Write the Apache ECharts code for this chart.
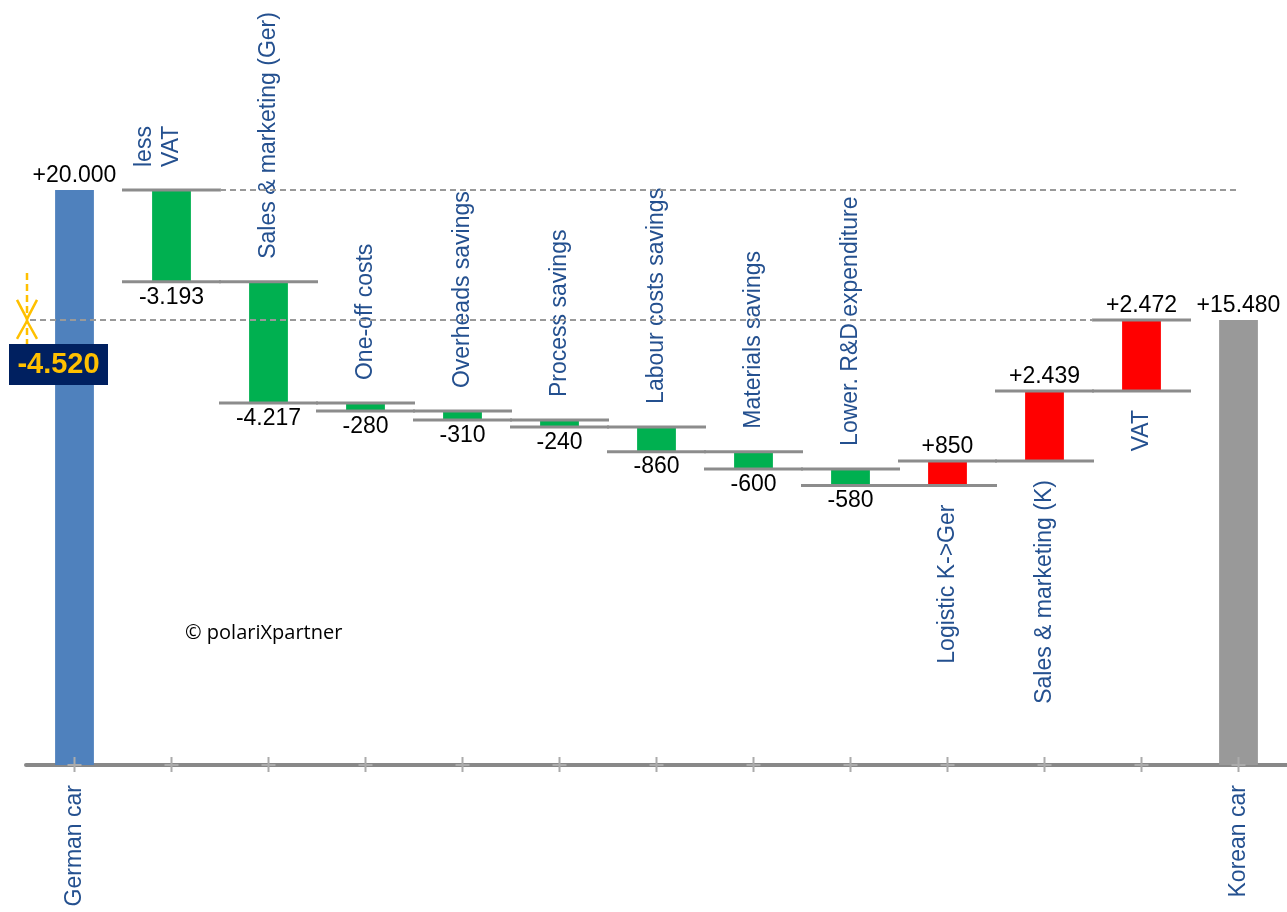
<!DOCTYPE html>
<html>
<head>
<meta charset="utf-8">
<script src="https://cdn.jsdelivr.net/npm/echarts@6/dist/echarts.min.js"></script>
<style>
html,body{margin:0;padding:0;background:#fff;}
#chart{width:1287px;height:912px;}
</style>
</head>
<body>
<div id="chart"></div>
<script>
// ---- data ----
const categories = ['German car','less\nVAT','Sales & marketing (Ger)','One-off costs','Overheads savings','Process savings','Labour costs savings','Materials savings','Lower. R&D expenditure','Logistic K->Ger','Sales & marketing (K)','VAT','Korean car'];
const deltas = [20000,-3193,-4217,-280,-310,-240,-860,-600,-580,850,2439,2472,15480];
const isTotal = [1,0,0,0,0,0,0,0,0,0,0,0,1];
const copyrightText = '\u00a9 polariXpartner';

// ---- styles ----
const C_GREEN = '#00B050', C_RED = '#FF0000', C_START = '#4F81BD', C_END = '#999999';
const C_CONN = '#8C8C8C', C_CAT = '#24508F', C_MARK = '#FFC000', C_BOX = '#002060';
const FONT = '"Liberation Sans", Arial, sans-serif';
const FS = 23;

function fmt(v) {
  const a = Math.abs(v).toString().replace(/\B(?=(\d{3})+(?!\d))/g, '.');
  return (v < 0 ? '-' : '+') + a;
}

// build waterfall rows
const rows = [];
let run = 0;
deltas.forEach((d, i) => {
  if (isTotal[i]) {
    rows.push([i, 0, d, d, 1]);
    run = d;
  } else {
    const s = run, e = run + d;
    rows.push([i, Math.min(s, e), Math.max(s, e), d, 0]);
    run = e;
  }
});
const startTotal = deltas[0];
const endTotal = deltas[deltas.length - 1];
const diff = endTotal - startTotal;

const chart = echarts.init(document.getElementById('chart'));

function renderBar(params, api) {
  const i = api.value(0), low = api.value(1), high = api.value(2), d = api.value(3), total = api.value(4);
  const pT = api.coord([i, high]);
  const pB = api.coord([i, low]);
  const cw = api.size([1, 0])[0];
  const bw = cw * 0.4;
  const cx = pT[0];
  const color = total ? (i === 0 ? C_START : C_END) : (d < 0 ? C_GREEN : C_RED);
  const children = [{
    type: 'rect',
    shape: { x: cx - bw / 2, y: pT[1], width: bw, height: pB[1] - pT[1] },
    style: { fill: color }
  }];
  if (!total) {
    [pT[1], pB[1]].forEach(y => {
      children.push({
        type: 'line',
        shape: { x1: cx - cw / 2 - 1, y1: y, x2: cx + cw / 2 + 1, y2: y },
        style: { stroke: C_CONN, lineWidth: 3 }
      });
    });
  }
  // value label
  const below = !total && d < 0;
  children.push({
    type: 'text',
    x: cx, y: below ? pB[1] + 4 : pT[1] - 3,
    style: {
      text: fmt(d), fill: '#000', font: FS + 'px ' + FONT,
      align: 'center', verticalAlign: below ? 'top' : 'bottom'
    }
  });
  // category label (rotated) for step items
  if (!total) {
    const name = categories[i];
    const nLines = name.split('\n').length;
    const lh = 27;
    children.push({
      type: 'text',
      x: cx - (nLines - 1) * lh / 2,
      y: d < 0 ? pT[1] - 23 : pB[1] + 19,
      rotation: Math.PI / 2,
      style: {
        text: name, fill: C_CAT, font: FS + 'px ' + FONT, lineHeight: lh,
        align: d < 0 ? 'left' : 'right', verticalAlign: 'middle'
      }
    });
  }
  return { type: 'group', children };
}

function renderGuides(params, api) {
  const n = categories.length;
  const cw = api.size([1, 0])[0];
  const yS = api.coord([0, api.value(1)])[1];
  const yE = api.coord([0, api.value(2)])[1];
  const x0 = api.coord([0, 0])[0];
  const x1 = api.coord([1, 0])[0];
  const xLast = api.coord([n - 1, 0])[0];
  const xPrev = api.coord([n - 2, 0])[0];
  const dash = { stroke: '#999', lineWidth: 2, lineDash: [6, 4] };
  const mx = x0 - cw / 2 + 1;
  const boxTop = yE + 24;
  return {
    type: 'group',
    children: [
      { type: 'line', shape: { x1: x1 + cw / 2, y1: yS, x2: xLast, y2: yS }, style: dash },
      { type: 'line', shape: { x1: mx + 3, y1: yE, x2: xPrev - cw / 2, y2: yE }, style: dash },
      { type: 'line', shape: { x1: mx, y1: yE - 47, x2: mx, y2: boxTop }, style: { stroke: C_MARK, lineWidth: 2.5, lineDash: [7, 4] } },
      { type: 'polyline', shape: { points: [[mx - 10, yE - 20], [mx, yE - 1], [mx + 10, yE - 20]] }, style: { stroke: C_MARK, lineWidth: 2.5, fill: null } },
      { type: 'polyline', shape: { points: [[mx - 10, yE + 19], [mx, yE + 1], [mx + 10, yE + 19]] }, style: { stroke: C_MARK, lineWidth: 2.5, fill: null } },
      { type: 'rect', shape: { x: mx - 18, y: boxTop, width: 99, height: 41 }, style: { fill: C_BOX } },
      { type: 'text', x: mx - 18 + 49.5, y: boxTop + 21,
        style: { text: fmt(diff), fill: C_MARK, font: 'bold 29px ' + FONT, align: 'center', verticalAlign: 'middle' } }
    ]
  };
}

function renderTick(params, api) {
  const p = api.coord([api.value(0), 0]);
  return {
    type: 'group',
    children: [
      { type: 'line', shape: { x1: p[0], y1: p[1] - 8, x2: p[0], y2: p[1] + 7 }, style: { stroke: '#ABABAB', lineWidth: 2 } },
      { type: 'line', shape: { x1: p[0] - 7, y1: p[1], x2: p[0] + 7, y2: p[1] }, style: { stroke: '#ABABAB', lineWidth: 2 } }
    ]
  };
}

const option = {
  animation: false,
  backgroundColor: '#fff',
  grid: { left: 26, right: 0, top: 190, bottom: 147 },
  xAxis: {
    type: 'category',
    data: categories,
    axisLine: { lineStyle: { color: '#888', width: 4 } },
    axisTick: { show: false },
    axisLabel: {
      interval: 0, rotate: 90, margin: 20, color: C_CAT, fontSize: FS, fontFamily: FONT,
      formatter: (v, idx) => isTotal[idx] ? v : ''
    }
  },
  yAxis: { type: 'value', min: 0, max: 20000, show: false, splitLine: { show: false } },
  graphic: [{
    type: 'text', left: 185, top: 623,
    style: { text: copyrightText, fill: '#000', font: '20px "Open Sans", sans-serif' }
  }],
  series: [
    { type: 'custom', clip: false, renderItem: renderBar, data: rows, encode: { x: 0, y: [1, 2] }, z: 2 },
    { type: 'custom', clip: false, renderItem: renderGuides, data: [[0, startTotal, endTotal]], z: 3 },
    { type: 'custom', clip: false, renderItem: renderTick, data: categories.map((c, i) => [i]), z: 4 }
  ]
};
chart.setOption(option);
</script>
</body>
</html>
